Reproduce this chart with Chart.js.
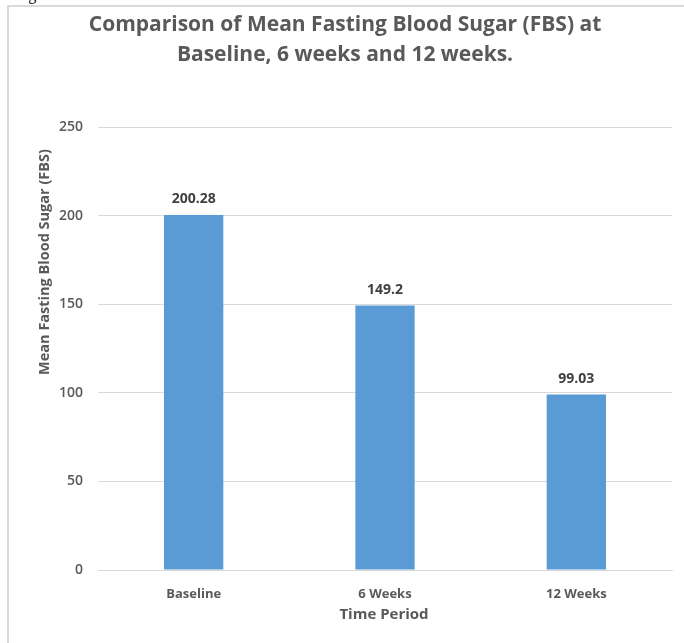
<!DOCTYPE html>
<html>
<head>
<meta charset="utf-8">
<script src="https://cdn.jsdelivr.net/npm/chart.js@4"></script>
<style>
  body { margin: 0; background: #fff; }
  #wrap { position: relative; width: 684px; height: 643px; overflow: hidden; }
  #frame { position: absolute; left: 7px; top: 5px; right: 0; bottom: 0;
           border-left: 2px solid #d9d9d9; border-top: 2px solid #d9d9d9; }
  #fig { position: absolute; left: 15px; top: -14px; font: 16px "Liberation Serif", serif; color: #000; }
  canvas { position: absolute; left: 0; top: 0; }
</style>
</head>
<body>
<div id="wrap">
  <div id="fig">Figure 1.</div>
  <div id="frame"></div>
  <canvas id="fbsChart" width="684" height="643"></canvas>
</div>
<script>
const categories = ["Baseline", "6 Weeks", "12 Weeks"];
const fbsValues = [200.28, 149.2, 99.03];
const valueLabels = ["200.28", "149.2", "99.03"];
const yTicks = [0, 50, 100, 150, 200, 250];
const titleLines = ["Comparison of Mean Fasting Blood Sugar (FBS) at", "Baseline, 6 weeks and 12 weeks."];

const FONT = '"Open Sans", sans-serif';
const textColor = "#595959";

// title, axis titles and value labels drawn by hand so they sit where Excel put them
const extraText = {
  id: "extraText",
  afterDatasetsDraw(chart) {
    const ctx = chart.ctx;
    const area = chart.chartArea;
    ctx.save();
    ctx.textAlign = "center";
    ctx.textBaseline = "middle";

    ctx.fillStyle = textColor;
    ctx.font = "bold 21px " + FONT;
    ctx.fillText(titleLines[0], 345, 25);
    ctx.fillText(titleLines[1], 345, 55);

    ctx.fillStyle = "#404040";
    ctx.font = "bold 14px " + FONT;
    chart.getDatasetMeta(0).data.forEach((bar, i) => {
      ctx.fillText(valueLabels[i], bar.x, bar.y - 16);
    });

    ctx.fillStyle = textColor;
    ctx.font = "bold 15px " + FONT;
    ctx.fillText("Time Period", (area.left + area.right) / 2 - 1, area.bottom + 45);

    ctx.font = "bold 14.5px " + FONT;
    ctx.translate(45, area.top + 135);
    ctx.rotate(-Math.PI / 2);
    ctx.fillText("Mean Fasting Blood Sugar (FBS)", 0, 0);
    ctx.restore();
  }
};

new Chart(document.getElementById("fbsChart"), {
  type: "bar",
  data: {
    labels: categories,
    datasets: [{
      data: fbsValues,
      backgroundColor: "#5b9bd5",
      barPercentage: 0.31,
      categoryPercentage: 1
    }]
  },
  options: {
    responsive: false,
    animation: false,
    layout: { padding: { top: 127, right: 12, bottom: 0 } },
    plugins: {
      legend: { display: false },
      tooltip: { enabled: false }
    },
    scales: {
      x: {
        grid: { display: false },
        border: { color: "#d9d9d9", width: 1 },
        ticks: { color: textColor, font: { family: FONT, size: 13, weight: "bold" }, padding: 8 },
        afterFit(scale) { scale.height = 73; }
      },
      y: {
        min: 0,
        max: 250,
        afterBuildTicks(scale) { scale.ticks = yTicks.map(v => ({ value: v })); },
        grid: { color: "#d9d9d9", drawTicks: false },
        border: { display: false },
        ticks: { color: textColor, font: { family: FONT, size: 14, weight: "600" }, padding: 15 },
        afterFit(scale) { scale.width = 98; }
      }
    }
  },
  plugins: [extraText]
});
</script>
</body>
</html>
